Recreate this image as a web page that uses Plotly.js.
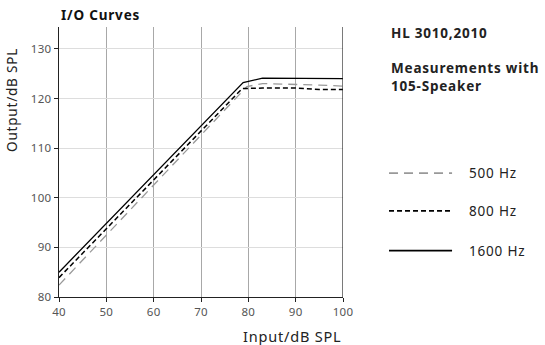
<!DOCTYPE html>
<html><head><meta charset="utf-8">
<script src="https://cdn.plot.ly/plotly-3.0.1.min.js"></script>
<style>
html,body{margin:0;padding:0;background:#fff}
.annotation-text{letter-spacing:0.8px}
.xtick text,.ytick text{letter-spacing:0.3px}
</style>
</head><body><div id="chart" style="width:545px;height:345px"></div>
<script>
const seriesNames = ["500 Hz", "800 Hz", "1600 Hz"];
const x500 = [40, 79.7, 83, 90, 95, 100];
const y500 = [82.4, 122.4, 123.0, 122.9, 122.7, 122.5];
const x800 = [40, 78.7, 83, 90, 95, 100];
const y800 = [83.9, 122.0, 122.1, 122.1, 121.8, 121.8];
const x1600 = [40, 78.9, 83, 90, 97, 100];
const y1600 = [85.0, 123.2, 124.1, 124.1, 124.0, 124.0];
const xTicks = [40, 50, 60, 70, 80, 90, 100];
const yTicks = [80, 90, 100, 110, 120, 130];

const styles = [
  {color: "#999999", dash: "9px,6px", width: 1.3},
  {color: "#000000", dash: "5px,3px", width: 1.5},
  {color: "#000000", dash: "solid", width: 1.3}
];
const xs = [x500, x800, x1600], ys = [y500, y800, y1600];
const font = "Noto Sans, Open Sans, sans-serif";

const traces = seriesNames.map((n, i) => ({
  x: xs[i], y: ys[i], name: n, type: "scatter", mode: "lines",
  line: {color: styles[i].color, dash: styles[i].dash, width: styles[i].width},
  showlegend: false, hoverinfo: "skip"
}));

const legendY = [0.459, 0.319, 0.172];
const shapes = [];
const annotations = [
  {text: "<b>I/O Curves</b>", xref: "paper", yref: "paper", x: 0.0, y: 1.0, xanchor: "left", yanchor: "bottom", yshift: 1, showarrow: false, font: {family: font, size: 13.5, color: "#111"}},
  {text: "<b>HL 3010,2010</b>", xref: "paper", yref: "paper", x: 1.162, y: 0.978, xanchor: "left", yanchor: "middle", showarrow: false, font: {family: font, size: 13.5, color: "#222"}},
  {text: "<b>Measurements with<br>105-Speaker</b>", xref: "paper", yref: "paper", x: 1.162, y: 0.813, xanchor: "left", yanchor: "middle", align: "left", showarrow: false, font: {family: font, size: 13.5, color: "#222"}},
  {text: "Input/dB SPL", xref: "paper", yref: "paper", x: 1.0, y: 0, xanchor: "right", yanchor: "top", yshift: -27, showarrow: false, font: {family: font, size: 14.5, color: "#222"}},
  {text: "Output/dB SPL", xref: "paper", yref: "paper", x: 0, y: 0.73, xanchor: "center", yanchor: "middle", xshift: -47, textangle: -90, showarrow: false, font: {family: font, size: 13.5, color: "#222"}}
];
seriesNames.forEach((n, i) => {
  shapes.push({type: "line", xref: "paper", yref: "paper", x0: 1.162, x1: 1.384, y0: legendY[i], y1: legendY[i],
    line: {color: styles[i].color, dash: styles[i].dash, width: styles[i].width + 0.4}});
  annotations.push({text: n, xref: "paper", yref: "paper", x: 1.437, y: legendY[i], xanchor: "left", yanchor: "middle", showarrow: false, font: {family: font, size: 13.5, color: "#222"}});
});
shapes.push({type: "line", xref: "x", yref: "paper", x0: 100, x1: 100, y0: 0, y1: 1, line: {color: "#222", width: 1.2}});

const layout = {
  width: 545, height: 345,
  margin: {l: 59, r: 202, t: 27, b: 48},
  paper_bgcolor: "#fff", plot_bgcolor: "#fff",
  font: {family: font, size: 11, color: "#555"},
  xaxis: {range: [40, 100], tickvals: xTicks, ticktext: xTicks.map(String), showgrid: true, gridcolor: "#a8a8a8", gridwidth: 1,
    showline: true, linecolor: "#222", linewidth: 1.2, ticks: "outside", ticklen: 4, tickcolor: "#222", zeroline: false,
    tickfont: {family: font, size: 11.5, color: "#555"}},
  yaxis: {range: [80, 134.4], tickvals: yTicks, ticktext: yTicks.map(String), showgrid: true, gridcolor: "#dddddd", gridwidth: 1,
    showline: true, linecolor: "#222", linewidth: 1.2, ticks: "outside", ticklen: 4, tickcolor: "#222", zeroline: false,
    tickfont: {family: font, size: 11.5, color: "#555"}},
  shapes: shapes, annotations: annotations, showlegend: false
};
Plotly.newPlot("chart", traces, layout, {staticPlot: true, displayModeBar: false});
</script></body></html>
